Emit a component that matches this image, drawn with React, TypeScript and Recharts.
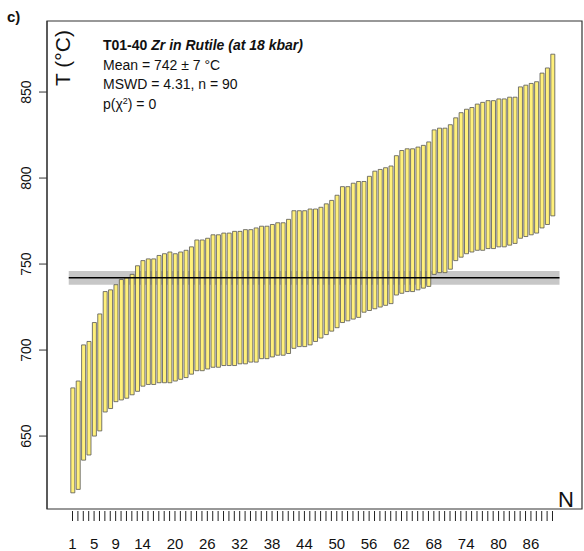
import React from 'react';
import { ComposedChart, Bar, XAxis, YAxis, ReferenceArea, ReferenceLine } from 'recharts';

// upper and lower ends of each Zr-in-rutile temperature (°C), sorted
const tempHigh = [
  678, 682, 703, 705, 716, 721, 734, 735, 738, 741,
  742, 744, 749, 752, 753, 753, 755, 756, 757, 756,
  757, 758, 760, 764, 764, 765, 767, 767, 768, 768,
  769, 769, 770, 770, 771, 772, 772, 773, 774, 774,
  776, 781, 781, 781, 782, 782, 783, 785, 787, 790,
  795, 795, 797, 798, 798, 801, 804, 805, 806, 807,
  813, 816, 817, 817, 818, 819, 821, 828, 829, 829,
  831, 835, 838, 840, 841, 843, 844, 845, 845, 846,
  846, 847, 847, 853, 854, 855, 856, 861, 864, 872,
];
const tempLow = [
  617, 619, 636, 639, 650, 653, 664, 666, 670, 671,
  672, 674, 676, 679, 680, 680, 681, 681, 681, 682,
  683, 684, 686, 688, 688, 689, 690, 690, 691, 691,
  691, 692, 692, 693, 693, 695, 695, 696, 697, 697,
  698, 701, 702, 702, 703, 705, 707, 709, 711, 713,
  716, 717, 718, 719, 722, 723, 724, 725, 726, 727,
  732, 733, 734, 734, 735, 736, 737, 744, 745, 745,
  747, 752, 754, 756, 757, 758, 758, 759, 759, 760,
  760, 761, 762, 765, 766, 767, 768, 771, 773, 778,
];
const xLabels = [1, 5, 9, 14, 20, 26, 32, 38, 44, 50, 56, 62, 68, 74, 80, 86];
const yTicks = [650, 700, 750, 800, 850];
const meanT = 742;
const meanBand = [738, 746];

const data = tempLow.map((lo, i) => ({ n: i + 1, range: [lo, tempHigh[i]] }));
const xTicks = data.map(d => d.n);

const X_DOMAIN: [number, number] = [-3.73, 95.47];
const Y_DOMAIN: [number, number] = [607.6, 891.3];
const FONT = '"Liberation Sans", Arial, Helvetica, sans-serif';

const XTick = (props: any) => {
  const { x, y, payload } = props;
  return (
    <g>
      <line x1={x} x2={x} y1={y + 2} y2={y + 12} stroke="#222" strokeWidth={1} />
      {xLabels.includes(payload.value) && (
        <text x={x} y={y + 40} textAnchor="middle" fontSize={15} fontFamily={FONT} fill="#111">
          {payload.value}
        </text>
      )}
    </g>
  );
};

const YTick = (props: any) => {
  const { x, y, payload } = props;
  return (
    <text
      x={x}
      y={y}
      transform={`rotate(-90 ${x} ${y})`}
      textAnchor="middle"
      dominantBaseline="central"
      fontSize={14}
      fontFamily={FONT}
      fill="#111"
    >
      {payload.value}
    </text>
  );
};

export default function App() {
  return (
    <div style={{ position: 'absolute', left: 0, top: 0, width: 584, height: 551, background: '#fff' }}>
      <ComposedChart width={584} height={551} data={data} margin={{ top: 21, right: 2, left: 0, bottom: 0 }}>
        <XAxis
          type="number"
          dataKey="n"
          domain={X_DOMAIN}
          ticks={xTicks}
          interval={0}
          allowDataOverflow
          axisLine={false}
          tickLine={false}
          tickSize={0}
          tickMargin={0}
          height={42}
          tick={XTick}
        />
        <YAxis
          type="number"
          domain={Y_DOMAIN}
          ticks={yTicks}
          allowDataOverflow
          width={47}
          tickSize={8}
          tickMargin={13}
          axisLine={{ stroke: '#333' }}
          tickLine={{ stroke: '#333' }}
          tick={YTick}
        />
        <Bar dataKey="range" barSize={4} fill="#fff07a" stroke="#555" strokeWidth={0.8} isAnimationActive={false} />
        <ReferenceArea
          x1={0.3}
          x2={91.3}
          y1={meanBand[0]}
          y2={meanBand[1]}
          fill="#000"
          fillOpacity={0.22}
          stroke="none"
        />
        <ReferenceLine
          segment={[{ x: 0.3, y: meanT }, { x: 91.3, y: meanT }]}
          stroke="#000"
          strokeWidth={1.5}
        />
        <ReferenceArea
          x1={X_DOMAIN[0]}
          x2={X_DOMAIN[1]}
          y1={Y_DOMAIN[0]}
          y2={Y_DOMAIN[1]}
          fill="none"
          stroke="#333"
          strokeWidth={1.2}
        />
      </ComposedChart>
      <svg width={584} height={551} style={{ position: 'absolute', left: 0, top: 0, pointerEvents: 'none' }}>
        <text x={7} y={22} fontSize={15} fontWeight="bold" fontFamily={FONT} fill="#111">c)</text>
        <text
          x={62}
          y={58}
          transform="rotate(-90 62 58)"
          textAnchor="middle"
          dominantBaseline="central"
          fontSize={21}
          fontFamily={FONT}
          fill="#111"
        >
          T (°C)
        </text>
        <text x={103} y={50} fontSize={14} fontWeight="bold" fontFamily={FONT} fill="#111">
          T01-40 <tspan fontStyle="italic">Zr in Rutile (at 18 kbar)</tspan>
        </text>
        <text x={103} y={69.5} fontSize={14} fontFamily={FONT} fill="#111">Mean = 742 ± 7 °C</text>
        <text x={103} y={89} fontSize={14} fontFamily={FONT} fill="#111">MSWD = 4.31, n = 90</text>
        <text x={103} y={108.5} fontSize={14} fontFamily={FONT} fill="#111">
          p(χ<tspan fontSize={9} dy={-5}>2</tspan><tspan dy={5}>) = 0</tspan>
        </text>
        <text x={566} y={507} textAnchor="middle" fontSize={22} fontFamily={FONT} fill="#111">N</text>
      </svg>
    </div>
  );
}
